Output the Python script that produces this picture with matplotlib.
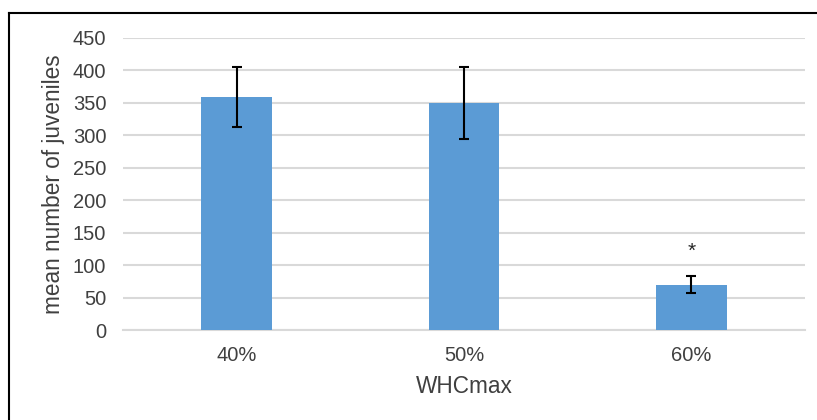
import matplotlib
matplotlib.use("Agg")
import matplotlib.pyplot as plt
from matplotlib.lines import Line2D

categories = ["40%", "50%", "60%"]
means = [359, 350, 70]
errors = [46, 55, 13]
significance = ["", "", "*"]
yticks = [0, 50, 100, 150, 200, 250, 300, 350, 400, 450]

plt.rcParams['font.family'] = ['Liberation Sans', 'DejaVu Sans']
text_color = '#404040'

fig = plt.figure(figsize=(8.17, 4.2), dpi=100)
ax = fig.add_axes([0.1506, 0.2131, 0.9853 - 0.1506, 0.9102 - 0.2131])

x = list(range(len(categories)))
ax.bar(x, means, width=0.31, color='#5B9BD5', zorder=3)
ax.errorbar(x, means, yerr=errors, fmt='none', ecolor='black', elinewidth=1.5,
            capsize=3.7, capthick=1.5, zorder=4)
for xi, m, e, s in zip(x, means, errors, significance):
    if s:
        ax.text(xi, m + e + 38, s, ha='center', va='center', fontsize=15, color='#262626')

ax.set_xlim(-0.5, len(categories) - 0.5)
ax.set_ylim(0, 450)
ax.set_yticks(yticks)
ax.set_xticks(x)
ax.set_xticklabels(categories)
ax.grid(axis='y', color='#D9D9D9', linewidth=1.5, zorder=0)
ax.set_axisbelow(True)
for side in ['left', 'right', 'top']:
    ax.spines[side].set_visible(False)
ax.spines['bottom'].set_color('#D9D9D9')
ax.spines['bottom'].set_linewidth(1.5)
ax.tick_params(axis='both', length=0, labelsize=14.5, colors=text_color)
ax.tick_params(axis='y', pad=12)
ax.tick_params(axis='x', pad=11.5)
ax.set_xlabel('WHCmax', fontsize=16.3, color=text_color, labelpad=7)
ax.set_ylabel('mean number of juveniles', fontsize=16.3, color=text_color, labelpad=6)

# partial frame border around figure (left and top edges visible)
fig.add_artist(Line2D([9/817, 9/817], [0, 1 - 13/420], transform=fig.transFigure,
                      color='black', linewidth=1.5))
fig.add_artist(Line2D([9/817, 1], [1 - 13/420, 1 - 13/420], transform=fig.transFigure,
                      color='black', linewidth=1.5))

fig.savefig('out.png', dpi=100)
